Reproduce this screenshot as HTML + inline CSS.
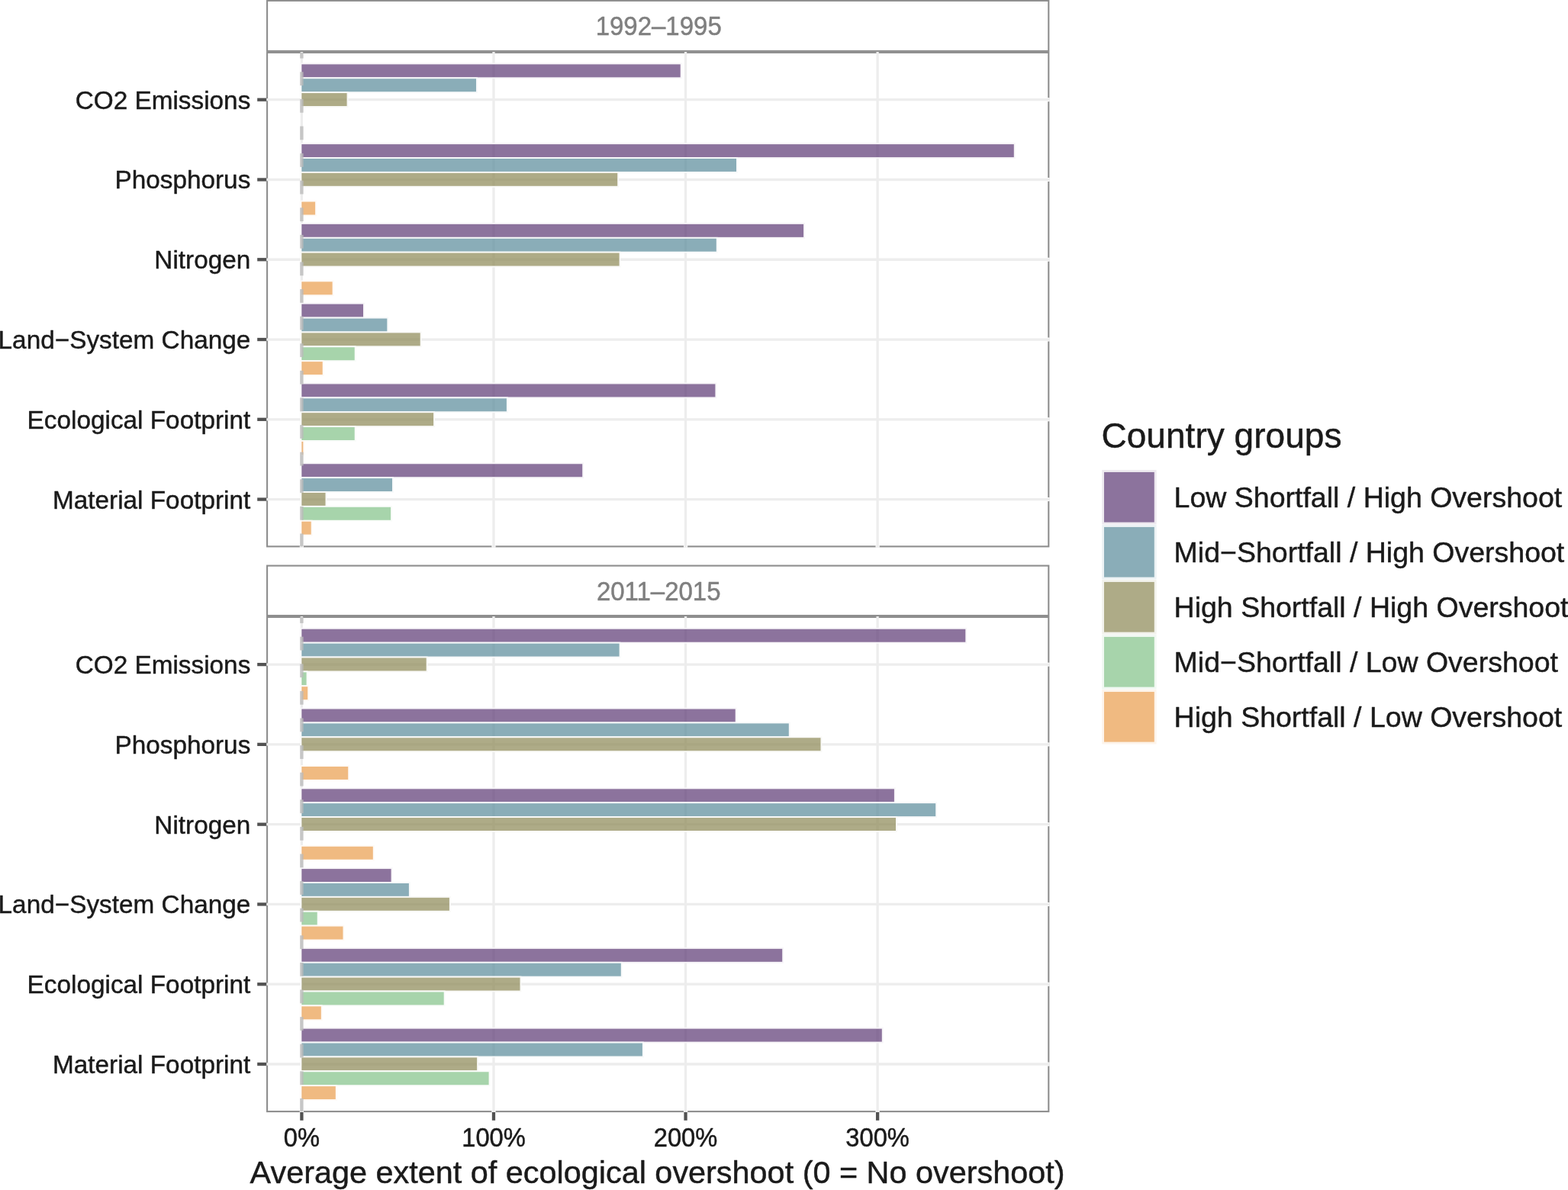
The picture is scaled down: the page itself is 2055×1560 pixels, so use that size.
<!DOCTYPE html>
<html lang="en"><head><meta charset="utf-8"><title>Average extent of ecological overshoot by country group</title>
<style>html,body{margin:0;padding:0;background:#fff}body{width:2055px;height:1560px;overflow:hidden}svg{display:block}text{font-family:"Liberation Sans", sans-serif;stroke-width:0.45px;stroke-linejoin:round}text.k{stroke:#1a1a1a}text.s{stroke:#7f7f7f}</style>
</head><body>
<svg width="2055" height="1560" viewBox="0 0 2055 1560">
<rect x="0" y="0" width="2055" height="1560" fill="#ffffff"/>
<g id="panel1">
<rect x="350.10" y="68.90" width="1024.20" height="647.50" fill="#ffffff" stroke="#8e8e8e" stroke-width="2.10"/>
<rect x="392.80" y="715.10" width="5.2" height="2.6" fill="#ffffff"/>
<rect x="644.37" y="715.10" width="5.2" height="2.6" fill="#ffffff"/>
<rect x="895.94" y="715.10" width="5.2" height="2.6" fill="#ffffff"/>
<rect x="1147.51" y="715.10" width="5.2" height="2.6" fill="#ffffff"/>
<rect x="1373.00" y="128.20" width="2.6" height="5.0" fill="#ffffff"/>
<rect x="1373.00" y="232.98" width="2.6" height="5.0" fill="#ffffff"/>
<rect x="1373.00" y="337.76" width="2.6" height="5.0" fill="#ffffff"/>
<rect x="1373.00" y="442.54" width="2.6" height="5.0" fill="#ffffff"/>
<rect x="1373.00" y="547.32" width="2.6" height="5.0" fill="#ffffff"/>
<rect x="1373.00" y="652.10" width="2.6" height="5.0" fill="#ffffff"/>
<line x1="395.40" y1="67.90" x2="395.40" y2="717.60" stroke="#ededed" stroke-width="3.30"/>
<line x1="646.97" y1="67.90" x2="646.97" y2="717.60" stroke="#ededed" stroke-width="3.30"/>
<line x1="898.54" y1="67.90" x2="898.54" y2="717.60" stroke="#ededed" stroke-width="3.30"/>
<line x1="1150.11" y1="67.90" x2="1150.11" y2="717.60" stroke="#ededed" stroke-width="3.30"/>
<line x1="349.10" y1="130.70" x2="1375.50" y2="130.70" stroke="#ededed" stroke-width="3.30"/>
<line x1="349.10" y1="235.48" x2="1375.50" y2="235.48" stroke="#ededed" stroke-width="3.30"/>
<line x1="349.10" y1="340.26" x2="1375.50" y2="340.26" stroke="#ededed" stroke-width="3.30"/>
<line x1="349.10" y1="445.04" x2="1375.50" y2="445.04" stroke="#ededed" stroke-width="3.30"/>
<line x1="349.10" y1="549.82" x2="1375.50" y2="549.82" stroke="#ededed" stroke-width="3.30"/>
<line x1="349.10" y1="654.60" x2="1375.50" y2="654.60" stroke="#ededed" stroke-width="3.30"/>
<rect x="394.45" y="83.40" width="498.20" height="18.86" fill="#5b3774" fill-opacity="0.70" stroke="#f7f5f8" stroke-width="1.90"/>
<rect x="394.45" y="102.26" width="230.50" height="18.86" fill="#598a9a" fill-opacity="0.70" stroke="#f7f9fa" stroke-width="1.90"/>
<rect x="394.45" y="121.12" width="61.10" height="18.86" fill="#8b8854" fill-opacity="0.70" stroke="#f9f9f7" stroke-width="1.90"/>
<rect x="394.45" y="188.18" width="935.30" height="18.86" fill="#5b3774" fill-opacity="0.70" stroke="#f7f5f8" stroke-width="1.90"/>
<rect x="394.45" y="207.04" width="571.50" height="18.86" fill="#598a9a" fill-opacity="0.70" stroke="#f7f9fa" stroke-width="1.90"/>
<rect x="394.45" y="225.90" width="415.70" height="18.86" fill="#8b8854" fill-opacity="0.70" stroke="#f9f9f7" stroke-width="1.90"/>
<rect x="394.45" y="263.62" width="19.60" height="18.86" fill="#ea9c4c" fill-opacity="0.70" stroke="#fefaf6" stroke-width="1.90"/>
<rect x="394.45" y="292.96" width="659.60" height="18.86" fill="#5b3774" fill-opacity="0.70" stroke="#f7f5f8" stroke-width="1.90"/>
<rect x="394.45" y="311.82" width="545.30" height="18.86" fill="#598a9a" fill-opacity="0.70" stroke="#f7f9fa" stroke-width="1.90"/>
<rect x="394.45" y="330.68" width="418.10" height="18.86" fill="#8b8854" fill-opacity="0.70" stroke="#f9f9f7" stroke-width="1.90"/>
<rect x="394.45" y="368.40" width="42.10" height="18.86" fill="#ea9c4c" fill-opacity="0.70" stroke="#fefaf6" stroke-width="1.90"/>
<rect x="394.45" y="397.74" width="82.50" height="18.86" fill="#5b3774" fill-opacity="0.70" stroke="#f7f5f8" stroke-width="1.90"/>
<rect x="394.45" y="416.60" width="113.80" height="18.86" fill="#598a9a" fill-opacity="0.70" stroke="#f7f9fa" stroke-width="1.90"/>
<rect x="394.45" y="435.46" width="157.20" height="18.86" fill="#8b8854" fill-opacity="0.70" stroke="#f9f9f7" stroke-width="1.90"/>
<rect x="394.45" y="454.32" width="71.20" height="18.86" fill="#81c287" fill-opacity="0.70" stroke="#f9fcf9" stroke-width="1.90"/>
<rect x="394.45" y="473.18" width="29.20" height="18.86" fill="#ea9c4c" fill-opacity="0.70" stroke="#fefaf6" stroke-width="1.90"/>
<rect x="394.45" y="502.52" width="543.90" height="18.86" fill="#5b3774" fill-opacity="0.70" stroke="#f7f5f8" stroke-width="1.90"/>
<rect x="394.45" y="521.38" width="270.40" height="18.86" fill="#598a9a" fill-opacity="0.70" stroke="#f7f9fa" stroke-width="1.90"/>
<rect x="394.45" y="540.24" width="174.60" height="18.86" fill="#8b8854" fill-opacity="0.70" stroke="#f9f9f7" stroke-width="1.90"/>
<rect x="394.45" y="559.10" width="71.20" height="18.86" fill="#81c287" fill-opacity="0.70" stroke="#f9fcf9" stroke-width="1.90"/>
<rect x="394.45" y="577.96" width="3.80" height="18.86" fill="#ea9c4c" fill-opacity="0.70" stroke="#fefaf6" stroke-width="1.90"/>
<rect x="394.45" y="607.30" width="369.70" height="18.86" fill="#5b3774" fill-opacity="0.70" stroke="#f7f5f8" stroke-width="1.90"/>
<rect x="394.45" y="626.16" width="120.50" height="18.86" fill="#598a9a" fill-opacity="0.70" stroke="#f7f9fa" stroke-width="1.90"/>
<rect x="394.45" y="645.02" width="33.00" height="18.86" fill="#8b8854" fill-opacity="0.70" stroke="#f9f9f7" stroke-width="1.90"/>
<rect x="394.45" y="663.88" width="118.60" height="18.86" fill="#81c287" fill-opacity="0.70" stroke="#f9fcf9" stroke-width="1.90"/>
<rect x="394.45" y="682.74" width="14.20" height="18.86" fill="#ea9c4c" fill-opacity="0.70" stroke="#fefaf6" stroke-width="1.90"/>
<line x1="395.40" y1="699.50" x2="395.40" y2="716.40" stroke="#bcbcbc" stroke-opacity="0.8" stroke-width="4.45"/>
<line x1="395.40" y1="663.90" x2="395.40" y2="681.70" stroke="#bcbcbc" stroke-opacity="0.8" stroke-width="4.45"/>
<line x1="395.40" y1="628.30" x2="395.40" y2="646.10" stroke="#bcbcbc" stroke-opacity="0.8" stroke-width="4.45"/>
<line x1="395.40" y1="592.70" x2="395.40" y2="610.50" stroke="#bcbcbc" stroke-opacity="0.8" stroke-width="4.45"/>
<line x1="395.40" y1="557.10" x2="395.40" y2="574.90" stroke="#bcbcbc" stroke-opacity="0.8" stroke-width="4.45"/>
<line x1="395.40" y1="521.50" x2="395.40" y2="539.30" stroke="#bcbcbc" stroke-opacity="0.8" stroke-width="4.45"/>
<line x1="395.40" y1="485.90" x2="395.40" y2="503.70" stroke="#bcbcbc" stroke-opacity="0.8" stroke-width="4.45"/>
<line x1="395.40" y1="450.30" x2="395.40" y2="468.10" stroke="#bcbcbc" stroke-opacity="0.8" stroke-width="4.45"/>
<line x1="395.40" y1="414.70" x2="395.40" y2="432.50" stroke="#bcbcbc" stroke-opacity="0.8" stroke-width="4.45"/>
<line x1="395.40" y1="379.10" x2="395.40" y2="396.90" stroke="#bcbcbc" stroke-opacity="0.8" stroke-width="4.45"/>
<line x1="395.40" y1="343.50" x2="395.40" y2="361.30" stroke="#bcbcbc" stroke-opacity="0.8" stroke-width="4.45"/>
<line x1="395.40" y1="307.90" x2="395.40" y2="325.70" stroke="#bcbcbc" stroke-opacity="0.8" stroke-width="4.45"/>
<line x1="395.40" y1="272.30" x2="395.40" y2="290.10" stroke="#bcbcbc" stroke-opacity="0.8" stroke-width="4.45"/>
<line x1="395.40" y1="236.70" x2="395.40" y2="254.50" stroke="#bcbcbc" stroke-opacity="0.8" stroke-width="4.45"/>
<line x1="395.40" y1="201.10" x2="395.40" y2="218.90" stroke="#bcbcbc" stroke-opacity="0.8" stroke-width="4.45"/>
<line x1="395.40" y1="165.50" x2="395.40" y2="183.30" stroke="#bcbcbc" stroke-opacity="0.8" stroke-width="4.45"/>
<line x1="395.40" y1="129.90" x2="395.40" y2="147.70" stroke="#bcbcbc" stroke-opacity="0.8" stroke-width="4.45"/>
<line x1="395.40" y1="94.30" x2="395.40" y2="112.10" stroke="#bcbcbc" stroke-opacity="0.8" stroke-width="4.45"/>
<line x1="395.40" y1="68.90" x2="395.40" y2="76.50" stroke="#bcbcbc" stroke-opacity="0.8" stroke-width="4.45"/>
<rect x="350.10" y="0.90" width="1024.20" height="66.00" fill="#ffffff" stroke="#8e8e8e" stroke-width="2.10"/>
<text transform="translate(863.20 45.80) scale(0.990 1.045)" font-size="33.33" class="s" fill="#7f7f7f" text-anchor="middle">1992–1995</text>
<line x1="337.20" y1="130.70" x2="349.20" y2="130.70" stroke="#525252" stroke-width="4.30"/>
<text x="328.30" y="142.70" font-size="33.33" class="k" fill="#1a1a1a" text-anchor="end">CO2 Emissions</text>
<line x1="337.20" y1="235.48" x2="349.20" y2="235.48" stroke="#525252" stroke-width="4.30"/>
<text x="328.30" y="247.48" font-size="33.33" class="k" fill="#1a1a1a" text-anchor="end">Phosphorus</text>
<line x1="337.20" y1="340.26" x2="349.20" y2="340.26" stroke="#525252" stroke-width="4.30"/>
<text x="328.30" y="352.26" font-size="33.33" class="k" fill="#1a1a1a" text-anchor="end">Nitrogen</text>
<line x1="337.20" y1="445.04" x2="349.20" y2="445.04" stroke="#525252" stroke-width="4.30"/>
<text x="328.30" y="457.04" font-size="33.33" class="k" fill="#1a1a1a" text-anchor="end">Land−System Change</text>
<line x1="337.20" y1="549.82" x2="349.20" y2="549.82" stroke="#525252" stroke-width="4.30"/>
<text x="328.30" y="561.82" font-size="33.33" class="k" fill="#1a1a1a" text-anchor="end">Ecological Footprint</text>
<line x1="337.20" y1="654.60" x2="349.20" y2="654.60" stroke="#525252" stroke-width="4.30"/>
<text x="328.30" y="666.60" font-size="33.33" class="k" fill="#1a1a1a" text-anchor="end">Material Footprint</text>
</g>
<g id="panel2">
<rect x="350.10" y="809.00" width="1024.20" height="648.10" fill="#ffffff" stroke="#8e8e8e" stroke-width="2.10"/>
<rect x="392.80" y="1455.80" width="5.2" height="2.6" fill="#ffffff"/>
<rect x="644.37" y="1455.80" width="5.2" height="2.6" fill="#ffffff"/>
<rect x="895.94" y="1455.80" width="5.2" height="2.6" fill="#ffffff"/>
<rect x="1147.51" y="1455.80" width="5.2" height="2.6" fill="#ffffff"/>
<rect x="1373.00" y="868.60" width="2.6" height="5.0" fill="#ffffff"/>
<rect x="1373.00" y="973.38" width="2.6" height="5.0" fill="#ffffff"/>
<rect x="1373.00" y="1078.16" width="2.6" height="5.0" fill="#ffffff"/>
<rect x="1373.00" y="1182.94" width="2.6" height="5.0" fill="#ffffff"/>
<rect x="1373.00" y="1287.72" width="2.6" height="5.0" fill="#ffffff"/>
<rect x="1373.00" y="1392.50" width="2.6" height="5.0" fill="#ffffff"/>
<line x1="395.40" y1="808.00" x2="395.40" y2="1458.30" stroke="#ededed" stroke-width="3.30"/>
<line x1="646.97" y1="808.00" x2="646.97" y2="1458.30" stroke="#ededed" stroke-width="3.30"/>
<line x1="898.54" y1="808.00" x2="898.54" y2="1458.30" stroke="#ededed" stroke-width="3.30"/>
<line x1="1150.11" y1="808.00" x2="1150.11" y2="1458.30" stroke="#ededed" stroke-width="3.30"/>
<line x1="349.10" y1="871.10" x2="1375.50" y2="871.10" stroke="#ededed" stroke-width="3.30"/>
<line x1="349.10" y1="975.88" x2="1375.50" y2="975.88" stroke="#ededed" stroke-width="3.30"/>
<line x1="349.10" y1="1080.66" x2="1375.50" y2="1080.66" stroke="#ededed" stroke-width="3.30"/>
<line x1="349.10" y1="1185.44" x2="1375.50" y2="1185.44" stroke="#ededed" stroke-width="3.30"/>
<line x1="349.10" y1="1290.22" x2="1375.50" y2="1290.22" stroke="#ededed" stroke-width="3.30"/>
<line x1="349.10" y1="1395.00" x2="1375.50" y2="1395.00" stroke="#ededed" stroke-width="3.30"/>
<rect x="394.45" y="823.80" width="871.80" height="18.86" fill="#5b3774" fill-opacity="0.70" stroke="#f7f5f8" stroke-width="1.90"/>
<rect x="394.45" y="842.66" width="418.10" height="18.86" fill="#598a9a" fill-opacity="0.70" stroke="#f7f9fa" stroke-width="1.90"/>
<rect x="394.45" y="861.52" width="165.20" height="18.86" fill="#8b8854" fill-opacity="0.70" stroke="#f9f9f7" stroke-width="1.90"/>
<rect x="394.45" y="880.38" width="8.10" height="18.86" fill="#81c287" fill-opacity="0.70" stroke="#f9fcf9" stroke-width="1.90"/>
<rect x="394.45" y="899.24" width="9.70" height="18.86" fill="#ea9c4c" fill-opacity="0.70" stroke="#fefaf6" stroke-width="1.90"/>
<rect x="394.45" y="928.58" width="570.20" height="18.86" fill="#5b3774" fill-opacity="0.70" stroke="#f7f5f8" stroke-width="1.90"/>
<rect x="394.45" y="947.44" width="640.30" height="18.86" fill="#598a9a" fill-opacity="0.70" stroke="#f7f9fa" stroke-width="1.90"/>
<rect x="394.45" y="966.30" width="682.00" height="18.86" fill="#8b8854" fill-opacity="0.70" stroke="#f9f9f7" stroke-width="1.90"/>
<rect x="394.45" y="1004.02" width="62.70" height="18.86" fill="#ea9c4c" fill-opacity="0.70" stroke="#fefaf6" stroke-width="1.90"/>
<rect x="394.45" y="1033.36" width="778.40" height="18.86" fill="#5b3774" fill-opacity="0.70" stroke="#f7f5f8" stroke-width="1.90"/>
<rect x="394.45" y="1052.22" width="832.70" height="18.86" fill="#598a9a" fill-opacity="0.70" stroke="#f7f9fa" stroke-width="1.90"/>
<rect x="394.45" y="1071.08" width="780.50" height="18.86" fill="#8b8854" fill-opacity="0.70" stroke="#f9f9f7" stroke-width="1.90"/>
<rect x="394.45" y="1108.80" width="95.30" height="18.86" fill="#ea9c4c" fill-opacity="0.70" stroke="#fefaf6" stroke-width="1.90"/>
<rect x="394.45" y="1138.14" width="119.10" height="18.86" fill="#5b3774" fill-opacity="0.70" stroke="#f7f5f8" stroke-width="1.90"/>
<rect x="394.45" y="1157.00" width="142.40" height="18.86" fill="#598a9a" fill-opacity="0.70" stroke="#f7f9fa" stroke-width="1.90"/>
<rect x="394.45" y="1175.86" width="195.40" height="18.86" fill="#8b8854" fill-opacity="0.70" stroke="#f9f9f7" stroke-width="1.90"/>
<rect x="394.45" y="1194.72" width="22.20" height="18.86" fill="#81c287" fill-opacity="0.70" stroke="#f9fcf9" stroke-width="1.90"/>
<rect x="394.45" y="1213.58" width="56.00" height="18.86" fill="#ea9c4c" fill-opacity="0.70" stroke="#fefaf6" stroke-width="1.90"/>
<rect x="394.45" y="1242.92" width="631.70" height="18.86" fill="#5b3774" fill-opacity="0.70" stroke="#f7f5f8" stroke-width="1.90"/>
<rect x="394.45" y="1261.78" width="420.30" height="18.86" fill="#598a9a" fill-opacity="0.70" stroke="#f7f9fa" stroke-width="1.90"/>
<rect x="394.45" y="1280.64" width="288.00" height="18.86" fill="#8b8854" fill-opacity="0.70" stroke="#f9f9f7" stroke-width="1.90"/>
<rect x="394.45" y="1299.50" width="188.20" height="18.86" fill="#81c287" fill-opacity="0.70" stroke="#f9fcf9" stroke-width="1.90"/>
<rect x="394.45" y="1318.36" width="27.30" height="18.86" fill="#ea9c4c" fill-opacity="0.70" stroke="#fefaf6" stroke-width="1.90"/>
<rect x="394.45" y="1347.70" width="762.30" height="18.86" fill="#5b3774" fill-opacity="0.70" stroke="#f7f5f8" stroke-width="1.90"/>
<rect x="394.45" y="1366.56" width="448.40" height="18.86" fill="#598a9a" fill-opacity="0.70" stroke="#f7f9fa" stroke-width="1.90"/>
<rect x="394.45" y="1385.42" width="231.60" height="18.86" fill="#8b8854" fill-opacity="0.70" stroke="#f9f9f7" stroke-width="1.90"/>
<rect x="394.45" y="1404.28" width="247.10" height="18.86" fill="#81c287" fill-opacity="0.70" stroke="#f9fcf9" stroke-width="1.90"/>
<rect x="394.45" y="1423.14" width="46.30" height="18.86" fill="#ea9c4c" fill-opacity="0.70" stroke="#fefaf6" stroke-width="1.90"/>
<line x1="395.40" y1="1439.90" x2="395.40" y2="1457.10" stroke="#bcbcbc" stroke-opacity="0.8" stroke-width="4.45"/>
<line x1="395.40" y1="1404.30" x2="395.40" y2="1422.10" stroke="#bcbcbc" stroke-opacity="0.8" stroke-width="4.45"/>
<line x1="395.40" y1="1368.70" x2="395.40" y2="1386.50" stroke="#bcbcbc" stroke-opacity="0.8" stroke-width="4.45"/>
<line x1="395.40" y1="1333.10" x2="395.40" y2="1350.90" stroke="#bcbcbc" stroke-opacity="0.8" stroke-width="4.45"/>
<line x1="395.40" y1="1297.50" x2="395.40" y2="1315.30" stroke="#bcbcbc" stroke-opacity="0.8" stroke-width="4.45"/>
<line x1="395.40" y1="1261.90" x2="395.40" y2="1279.70" stroke="#bcbcbc" stroke-opacity="0.8" stroke-width="4.45"/>
<line x1="395.40" y1="1226.30" x2="395.40" y2="1244.10" stroke="#bcbcbc" stroke-opacity="0.8" stroke-width="4.45"/>
<line x1="395.40" y1="1190.70" x2="395.40" y2="1208.50" stroke="#bcbcbc" stroke-opacity="0.8" stroke-width="4.45"/>
<line x1="395.40" y1="1155.10" x2="395.40" y2="1172.90" stroke="#bcbcbc" stroke-opacity="0.8" stroke-width="4.45"/>
<line x1="395.40" y1="1119.50" x2="395.40" y2="1137.30" stroke="#bcbcbc" stroke-opacity="0.8" stroke-width="4.45"/>
<line x1="395.40" y1="1083.90" x2="395.40" y2="1101.70" stroke="#bcbcbc" stroke-opacity="0.8" stroke-width="4.45"/>
<line x1="395.40" y1="1048.30" x2="395.40" y2="1066.10" stroke="#bcbcbc" stroke-opacity="0.8" stroke-width="4.45"/>
<line x1="395.40" y1="1012.70" x2="395.40" y2="1030.50" stroke="#bcbcbc" stroke-opacity="0.8" stroke-width="4.45"/>
<line x1="395.40" y1="977.10" x2="395.40" y2="994.90" stroke="#bcbcbc" stroke-opacity="0.8" stroke-width="4.45"/>
<line x1="395.40" y1="941.50" x2="395.40" y2="959.30" stroke="#bcbcbc" stroke-opacity="0.8" stroke-width="4.45"/>
<line x1="395.40" y1="905.90" x2="395.40" y2="923.70" stroke="#bcbcbc" stroke-opacity="0.8" stroke-width="4.45"/>
<line x1="395.40" y1="870.30" x2="395.40" y2="888.10" stroke="#bcbcbc" stroke-opacity="0.8" stroke-width="4.45"/>
<line x1="395.40" y1="834.70" x2="395.40" y2="852.50" stroke="#bcbcbc" stroke-opacity="0.8" stroke-width="4.45"/>
<line x1="395.40" y1="809.00" x2="395.40" y2="816.90" stroke="#bcbcbc" stroke-opacity="0.8" stroke-width="4.45"/>
<rect x="350.10" y="741.60" width="1024.20" height="65.40" fill="#ffffff" stroke="#8e8e8e" stroke-width="2.10"/>
<text transform="translate(863.20 786.50) scale(0.990 1.045)" font-size="33.33" class="s" fill="#7f7f7f" text-anchor="middle">2011–2015</text>
<line x1="337.20" y1="871.10" x2="349.20" y2="871.10" stroke="#525252" stroke-width="4.30"/>
<text x="328.30" y="883.10" font-size="33.33" class="k" fill="#1a1a1a" text-anchor="end">CO2 Emissions</text>
<line x1="337.20" y1="975.88" x2="349.20" y2="975.88" stroke="#525252" stroke-width="4.30"/>
<text x="328.30" y="987.88" font-size="33.33" class="k" fill="#1a1a1a" text-anchor="end">Phosphorus</text>
<line x1="337.20" y1="1080.66" x2="349.20" y2="1080.66" stroke="#525252" stroke-width="4.30"/>
<text x="328.30" y="1092.66" font-size="33.33" class="k" fill="#1a1a1a" text-anchor="end">Nitrogen</text>
<line x1="337.20" y1="1185.44" x2="349.20" y2="1185.44" stroke="#525252" stroke-width="4.30"/>
<text x="328.30" y="1197.44" font-size="33.33" class="k" fill="#1a1a1a" text-anchor="end">Land−System Change</text>
<line x1="337.20" y1="1290.22" x2="349.20" y2="1290.22" stroke="#525252" stroke-width="4.30"/>
<text x="328.30" y="1302.22" font-size="33.33" class="k" fill="#1a1a1a" text-anchor="end">Ecological Footprint</text>
<line x1="337.20" y1="1395.00" x2="349.20" y2="1395.00" stroke="#525252" stroke-width="4.30"/>
<text x="328.30" y="1407.00" font-size="33.33" class="k" fill="#1a1a1a" text-anchor="end">Material Footprint</text>
</g>
<g id="xaxis">
<line x1="395.40" y1="1458.00" x2="395.40" y2="1468.80" stroke="#525252" stroke-width="4.30"/>
<text transform="translate(395.40 1502.60) scale(0.980 1.045)" font-size="33.33" class="k" fill="#1a1a1a" text-anchor="middle">0%</text>
<line x1="646.97" y1="1458.00" x2="646.97" y2="1468.80" stroke="#525252" stroke-width="4.30"/>
<text transform="translate(646.97 1502.60) scale(0.980 1.045)" font-size="33.33" class="k" fill="#1a1a1a" text-anchor="middle">100%</text>
<line x1="898.54" y1="1458.00" x2="898.54" y2="1468.80" stroke="#525252" stroke-width="4.30"/>
<text transform="translate(898.54 1502.60) scale(0.980 1.045)" font-size="33.33" class="k" fill="#1a1a1a" text-anchor="middle">200%</text>
<line x1="1150.11" y1="1458.00" x2="1150.11" y2="1468.80" stroke="#525252" stroke-width="4.30"/>
<text transform="translate(1150.11 1502.60) scale(0.980 1.045)" font-size="33.33" class="k" fill="#1a1a1a" text-anchor="middle">300%</text>
<text x="861.60" y="1551.40" font-size="41.4" class="k" fill="#1a1a1a" text-anchor="middle">Average extent of ecological overshoot (0 = No overshoot)</text>
</g>
<g id="legend">
<text x="1443.40" y="587.40" font-size="46.1" class="k" fill="#1a1a1a">Country groups</text>
<rect x="1444.20" y="616.10" width="71.40" height="71.40" fill="#ede9ef"/>
<rect x="1447.00" y="618.95" width="65.80" height="65.70" fill="#ffffff"/>
<rect x="1447.00" y="618.95" width="65.80" height="65.70" fill="#5b3774" fill-opacity="0.70"/>
<text x="1538.60" y="665.40" font-size="37.5" class="k" fill="#1a1a1a">Low Shortfall / High Overshoot</text>
<rect x="1444.20" y="688.10" width="71.40" height="71.40" fill="#ecf2f4"/>
<rect x="1447.00" y="690.95" width="65.80" height="65.70" fill="#ffffff"/>
<rect x="1447.00" y="690.95" width="65.80" height="65.70" fill="#598a9a" fill-opacity="0.70"/>
<text x="1538.60" y="737.40" font-size="37.5" class="k" fill="#1a1a1a">Mid−Shortfall / High Overshoot</text>
<rect x="1444.20" y="760.10" width="71.40" height="71.40" fill="#f2f2ec"/>
<rect x="1447.00" y="762.95" width="65.80" height="65.70" fill="#ffffff"/>
<rect x="1447.00" y="762.95" width="65.80" height="65.70" fill="#8b8854" fill-opacity="0.70"/>
<text x="1538.60" y="809.40" font-size="37.5" class="k" fill="#1a1a1a">High Shortfall / High Overshoot</text>
<rect x="1444.20" y="832.10" width="71.40" height="71.40" fill="#f1f8f2"/>
<rect x="1447.00" y="834.95" width="65.80" height="65.70" fill="#ffffff"/>
<rect x="1447.00" y="834.95" width="65.80" height="65.70" fill="#81c287" fill-opacity="0.70"/>
<text x="1538.60" y="881.40" font-size="37.5" class="k" fill="#1a1a1a">Mid−Shortfall / Low Overshoot</text>
<rect x="1444.20" y="904.10" width="71.40" height="71.40" fill="#fdf4eb"/>
<rect x="1447.00" y="906.95" width="65.80" height="65.70" fill="#ffffff"/>
<rect x="1447.00" y="906.95" width="65.80" height="65.70" fill="#ea9c4c" fill-opacity="0.70"/>
<text x="1538.60" y="953.40" font-size="37.5" class="k" fill="#1a1a1a">High Shortfall / Low Overshoot</text>
</g>
</svg>
</body></html>
